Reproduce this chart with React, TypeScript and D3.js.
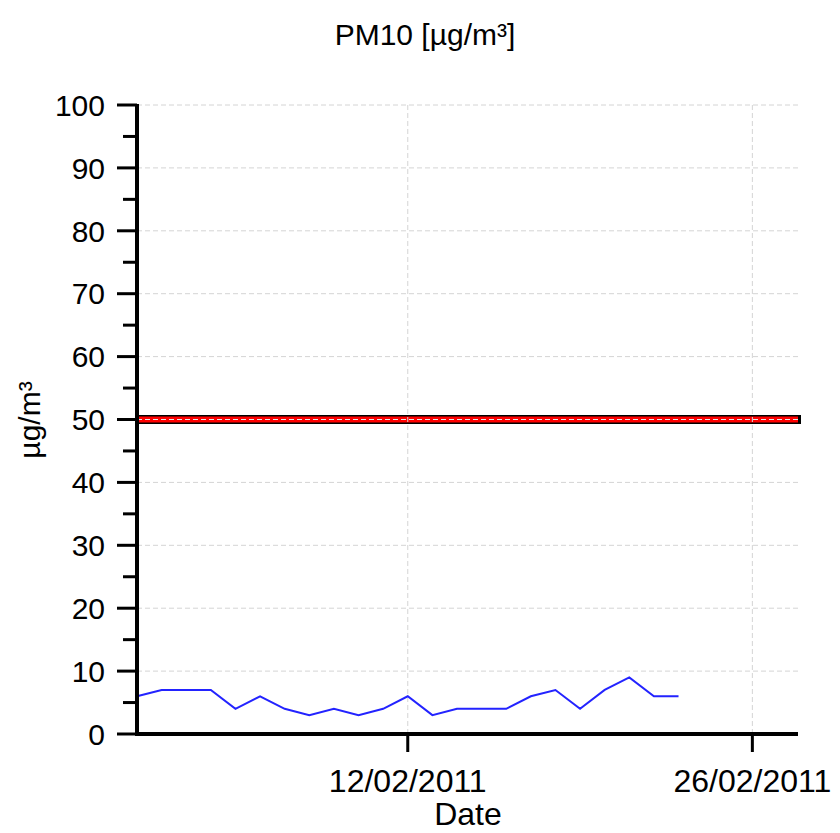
import React from "react";
import * as d3 from "d3";

const dates: string[] = [
  "2011-02-01", "2011-02-02", "2011-02-03", "2011-02-04", "2011-02-05", "2011-02-06",
  "2011-02-07", "2011-02-08", "2011-02-09", "2011-02-10", "2011-02-11", "2011-02-12",
  "2011-02-13", "2011-02-14", "2011-02-15", "2011-02-16", "2011-02-17", "2011-02-18",
  "2011-02-19", "2011-02-20", "2011-02-21", "2011-02-22", "2011-02-23",
];
const pm10: number[] = [6, 7, 7, 7, 4, 6, 4, 3, 4, 3, 4, 6, 3, 4, 4, 4, 6, 7, 4, 7, 9, 6, 6];
const limitValue = 50;
const yTicks: number[] = [0, 10, 20, 30, 40, 50, 60, 70, 80, 90, 100];
const yMinorTicks: number[] = [5, 15, 25, 35, 45, 55, 65, 75, 85, 95];
const xTickDates: string[] = ["2011-02-12", "2011-02-26"];
const xTickLabels: string[] = ["12/02/2011", "26/02/2011"];
const xDomain: string[] = ["2011-02-01T00:00", "2011-02-27T20:30"];
const yDomain: number[] = [0, 100];
const title = "PM10 [µg/m³]";
const xTitle = "Date";
const yTitle = "µg/m³";

const parse = (s: string) => new Date(s.length === 10 ? s + "T00:00" : s);

export default function App() {
  const W = 840, H = 833;
  const left = 137, right = 798, top = 105, bottom = 734;
  const x = d3.scaleTime().domain(xDomain.map(parse)).range([left, right]);
  const y = d3.scaleLinear().domain(yDomain).range([bottom, top]);
  const pts = dates.map((d, i) => [x(parse(d)), y(pm10[i])] as [number, number]);
  const line = d3.line<[number, number]>()(pts) || "";
  const font = "'Liberation Sans', Arial, sans-serif";
  const grid = "#d4d4d4";
  const yl = y(limitValue);

  return (
    <svg width={W} height={H} style={{ position: "absolute", left: 0, top: 0, background: "#fff" }}
      fontFamily={font}>
      <rect x={0} y={0} width={W} height={H} fill="#fff" />
      <text x={425} y={45} fontSize={30} textAnchor="middle" fill="#000">{title}</text>

      {/* limit band */}
      <line x1={left} x2={right + 3} y1={yl} y2={yl} stroke="#000" strokeWidth={9} />
      <line x1={left} x2={right} y1={yl} y2={yl} stroke="#ff0000" strokeWidth={6} />

      {/* grid */}
      {yTicks.map((t) => (
        <line key={"gy" + t} x1={left} x2={right} y1={y(t)} y2={y(t)} stroke={t === limitValue ? "#e6e6e6" : grid}
          strokeWidth={1} strokeDasharray="5,3" />
      ))}
      {xTickDates.map((d) => (
        <line key={"gx" + d} x1={x(parse(d))} x2={x(parse(d))} y1={top} y2={bottom} stroke={grid}
          strokeWidth={1} strokeDasharray="5,3" />
      ))}

      {/* data */}
      <path d={line} fill="none" stroke="#2323ff" strokeWidth={2} />

      {/* axes */}
      <line x1={left} x2={left} y1={top - 1} y2={bottom + 2} stroke="#000" strokeWidth={4} />
      <line x1={left - 2} x2={right} y1={bottom} y2={bottom} stroke="#000" strokeWidth={4} />
      {yTicks.map((t) => (
        <g key={"ty" + t}>
          <line x1={left - 20} x2={left} y1={y(t)} y2={y(t)} stroke="#000" strokeWidth={3} />
          <text x={105} y={y(t) + 10.7} fontSize={30} textAnchor="end" fill="#000">{t}</text>
        </g>
      ))}
      {yMinorTicks.map((t) => (
        <line key={"my" + t} x1={left - 14} x2={left} y1={y(t)} y2={y(t)} stroke="#000" strokeWidth={3} />
      ))}
      {xTickDates.map((d, i) => (
        <g key={"tx" + d}>
          <line x1={x(parse(d))} x2={x(parse(d))} y1={bottom} y2={bottom + 18} stroke="#000" strokeWidth={3} />
          <text x={x(parse(d))} y={792} fontSize={32} textAnchor="middle" fill="#000">{xTickLabels[i]}</text>
        </g>
      ))}
      <text x={468} y={825} fontSize={32} textAnchor="middle" fill="#000">{xTitle}</text>
      <text transform="translate(40,420) rotate(-90)" fontSize={30} textAnchor="middle" fill="#000">{yTitle}</text>
    </svg>
  );
}
